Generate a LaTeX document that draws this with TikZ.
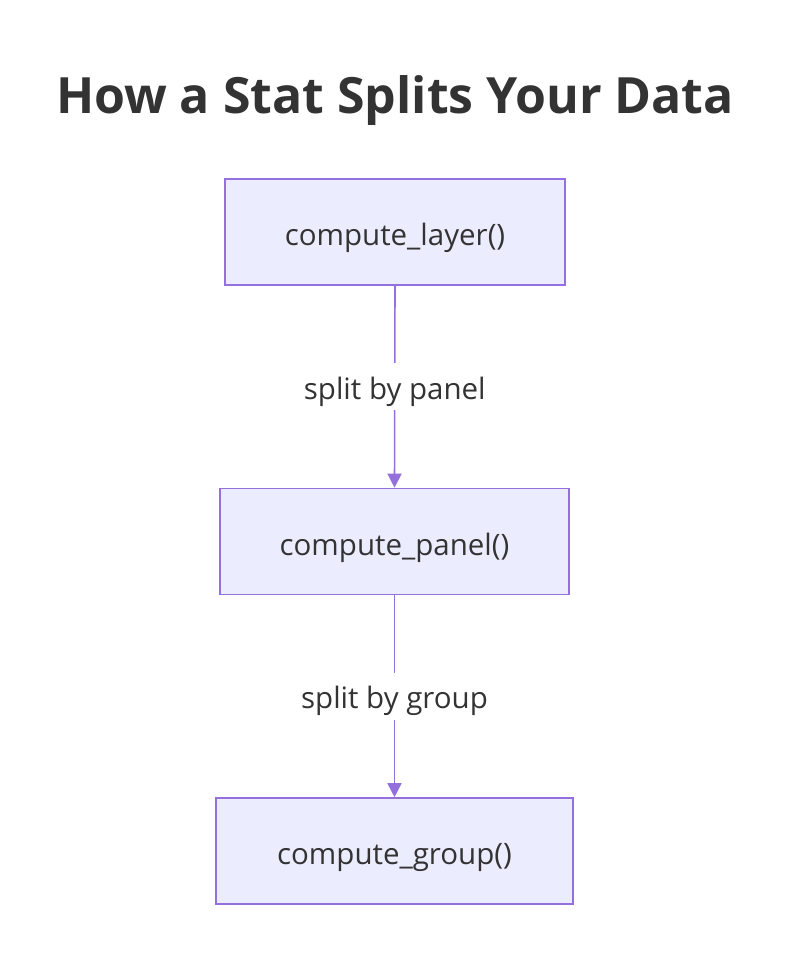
\documentclass[tikz,border=0pt]{standalone}
\usepackage{fontspec}
\setmainfont{Open Sans}
\usetikzlibrary{arrows.meta}
\definecolor{nodefill}{HTML}{ECECFF}
\definecolor{nodeline}{HTML}{9370DB}
\definecolor{txt}{HTML}{333333}
\tikzset{
  box/.style={draw=nodeline, fill=nodefill, line width=1.6pt, minimum height=106pt, text=txt, font=\fontsize{29.5}{34}\selectfont, inner sep=0pt, text height=27pt, text depth=0pt},
  edgelbl/.style={fill=white, text=txt, font=\fontsize{29.5}{34}\selectfont, minimum height=47pt, inner sep=2pt, text height=25pt, text depth=0pt},
  flow/.style={draw=nodeline, line width=1.6pt, -{Triangle[length=14pt,width=14pt]}}
}
\begin{document}
\begin{tikzpicture}[x=1pt,y=-1pt]
\useasboundingbox (0,0) rectangle (806,978);
\node[text=txt, font=\fontsize{50}{60}\selectfont\bfseries] (title) at (395,101) {How a Stat Splits Your Data};
\node[box, minimum width=340pt] (layer) at (395,232) {compute\_layer()};
\node[box, minimum width=349pt] (panel) at (394.5,541.5) {compute\_panel()};
\node[box, minimum width=357pt] (group) at (394.5,851) {compute\_group()};
\draw[flow] (layer.south) -- (panel.north) node[midway, edgelbl] (l1) {split by panel};
\draw[flow] (panel.south) -- (group.north) node[midway, edgelbl] (l2) {split by group};
\end{tikzpicture}
\end{document}
